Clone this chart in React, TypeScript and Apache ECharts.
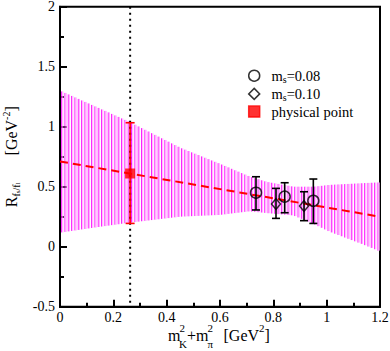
import { useEffect, useRef } from 'react';
import * as echarts from 'echarts';

// ---- data ----
const bandX = [0, 0.13, 0.26, 0.45, 0.6, 0.71, 0.775, 0.875, 0.95, 1.01, 1.14, 1.2];
const bandUpper = [1.30, 1.17, 1.04, 0.825, 0.69, 0.585, 0.54, 0.50, 0.50, 0.515, 0.53, 0.536];
const bandLower = [0.117, 0.16, 0.20, 0.25, 0.265, 0.295, 0.28, 0.26, 0.19, 0.125, 0.015, -0.04];

const fitX = [0, 1.2];
const fitY = [0.71, 0.25];

const ms008X = [0.735, 0.8425, 0.95];
const ms008Y = [0.45, 0.417, 0.383];
const ms008Lo = [0.306, 0.283, 0.194];
const ms008Hi = [0.583, 0.533, 0.564];

const ms010X = [0.81, 0.915];
const ms010Y = [0.356, 0.339];
const ms010Lo = [0.236, 0.217];
const ms010Hi = [0.486, 0.458];

const physX = [0.263];
const physY = [0.61];
const physLo = [0.194];
const physHi = [1.033];

const xMin = 0, xMax = 1.2, xStep = 0.2;
const yMin = -0.5, yMax = 2, yStep = 0.5;

const legendNames = ['m_s=0.08', 'm_s=0.10', 'physical point'];

const SERIF = "'Liberation Serif', 'Times New Roman', serif";
const HATCH_STEP = 3.33;

function renderBand(params: any, api: any) {
  const i = params.dataIndex;
  const n = bandX.length;
  if (i >= n - 1) return { type: 'group', children: [] };
  const ua = api.coord([bandX[i], bandUpper[i]]);
  const ub = api.coord([bandX[i + 1], bandUpper[i + 1]]);
  const la = api.coord([bandX[i], bandLower[i]]);
  const lb = api.coord([bandX[i + 1], bandLower[i + 1]]);
  const origin = api.coord([bandX[0], 0])[0] + 1.6;
  const end = api.coord([bandX[n - 1], 0])[0] - 1.5;
  const children: any[] = [];
  let k = Math.max(0, Math.ceil((ua[0] - origin) / HATCH_STEP - 1e-9));
  for (; ; k++) {
    const px = origin + k * HATCH_STEP;
    if (px > end) break;
    if (px >= ub[0] && i !== n - 2) break;
    const t = (px - ua[0]) / (ub[0] - ua[0]);
    const top = ua[1] + t * (ub[1] - ua[1]);
    const bot = la[1] + t * (lb[1] - la[1]);
    children.push({
      type: 'line',
      shape: { x1: px, y1: top, x2: px, y2: bot },
      style: { stroke: '#ff00ff', lineWidth: 0.9 },
    });
    children.push({
      type: 'line',
      shape: { x1: px + 1.25, y1: top, x2: px + 1.25, y2: bot },
      style: { stroke: '#ffaaff', lineWidth: 1 },
    });
  }
  return { type: 'group', children };
}

function makeErrRenderer(color: string, half: number) {
  return (params: any, api: any) => {
    const x = api.value(0);
    const pl = api.coord([x, api.value(2)]);
    const ph = api.coord([x, api.value(3)]);
    const style = { stroke: color, lineWidth: 1.6 };
    return {
      type: 'group',
      children: [
        { type: 'line', shape: { x1: pl[0], y1: pl[1], x2: ph[0], y2: ph[1] }, style },
        { type: 'line', shape: { x1: pl[0] - half, y1: pl[1], x2: pl[0] + half, y2: pl[1] }, style },
        { type: 'line', shape: { x1: ph[0] - half, y1: ph[1], x2: ph[0] + half, y2: ph[1] }, style },
      ],
    };
  };
}

const txt = (text: string, x: number, y: number, size: number) => ({
  type: 'text',
  x,
  y,
  silent: true,
  style: { text, fontSize: size, fontFamily: SERIF, fill: '#000', align: 'left', verticalAlign: 'middle' },
});

export default function App() {
  const ref = useRef<HTMLDivElement>(null);
  useEffect(() => {
    document.body.style.margin = '0';
    const chart = echarts.init(ref.current!, null, { renderer: 'svg' });

    const bandData = bandX.map((x, i) => [x, bandUpper[i], bandLower[i]]);
    const err = (X: number[], Y: number[], L: number[], H: number[]) => X.map((x, i) => [x, Y[i], L[i], H[i]]);
    const pts = (X: number[], Y: number[]) => X.map((x, i) => [x, Y[i]]);

    const axisCommon = {
      type: 'value' as const,
      axisLine: { show: true, onZero: false, lineStyle: { color: '#000', width: 2 } },
      axisTick: { show: true, inside: true, length: 7, lineStyle: { color: '#000', width: 2 } },
      minorTick: { show: true, splitNumber: 2, length: 4, lineStyle: { color: '#000', width: 2 } },
      splitLine: { show: false },
      minorSplitLine: { show: false },
    };

    chart.setOption({
      animation: false,
      backgroundColor: '#fff',
      grid: {
        left: 60, right: 10, top: 6.7, bottom: 44.3,
        show: true, borderColor: '#000', borderWidth: 2, backgroundColor: 'transparent',
        containLabel: false, outerBoundsMode: 'none',
      },
      xAxis: {
        ...axisCommon,
        min: xMin, max: xMax, interval: xStep,
        axisLabel: { color: '#000', fontFamily: SERIF, fontSize: 14, margin: 4 },
      },
      yAxis: {
        ...axisCommon,
        min: yMin, max: yMax, interval: yStep,
        axisLabel: { color: '#000', fontFamily: SERIF, fontSize: 14, margin: 5 },
        name: '{r|R}{s|f}{ss|s}{s|/f}{ss|l}{g| }{r|[GeV}{sup|-2}{r|]}',
        nameLocation: 'middle',
        nameRotate: 90,
        nameGap: 36,
        nameTextStyle: {
          fontFamily: SERIF,
          fontSize: 16,
          color: '#000',
          rich: {
            r: { fontFamily: SERIF, fontSize: 16, lineHeight: 20, color: '#000' },
            g: { fontFamily: SERIF, fontSize: 16, lineHeight: 20, width: 27 },
            sup: { fontFamily: SERIF, fontSize: 10, lineHeight: 8, verticalAlign: 'top', color: '#000' },
            s: { fontFamily: SERIF, fontSize: 10, lineHeight: 10, verticalAlign: 'bottom', color: '#000' },
            ss: { fontFamily: SERIF, fontSize: 7, lineHeight: 6, verticalAlign: 'bottom', color: '#000' },
          },
        },
      },
      legend: {
        orient: 'vertical',
        left: 246.2,
        top: 67.7,
        padding: 0,
        itemWidth: 11,
        itemHeight: 11,
        itemGap: 1.2,
        symbolKeepAspect: true,
        data: legendNames,
        selectedMode: false,
        itemStyle: { borderWidth: 1.5 },
        formatter: (name: string) =>
          name === legendNames[2] ? `{p|${name}}` : `{p|m}{s|s}{t|=${name.split('=')[1]}}`,
        textStyle: {
          fontFamily: SERIF,
          fontSize: 14.5,
          color: '#000',
          rich: {
            p: { fontFamily: SERIF, fontSize: 14.5, color: '#000', lineHeight: 18, padding: [0, 0, 0, 6.8] },
            t: { fontFamily: SERIF, fontSize: 14.5, color: '#000', lineHeight: 18 },
            s: { fontFamily: SERIF, fontSize: 10, color: '#000', lineHeight: 9, verticalAlign: 'bottom' },
          },
        },
      },
      graphic: [
        // x-axis title: m_K^2 + m_pi^2  [GeV^2]
        txt('m', 168, 335.6, 16),
        txt('2', 179.5, 328, 11),
        txt('K', 179, 344, 11),
        txt('+', 187, 335.6, 16),
        txt('m', 196, 335.6, 16),
        txt('2', 207.5, 328, 11),
        txt('\u03c0', 207.5, 344, 11),
        txt('[GeV', 223.5, 335.6, 16),
        txt('2', 259, 328, 11),
        txt(']', 264.5, 335.6, 16),
      ],
      series: [
        {
          type: 'custom',
          name: 'band',
          silent: true,
          z: 1,
          renderItem: renderBand,
          encode: { x: 0, y: [1, 2] },
          data: bandData,
        },
        {
          type: 'line',
          name: 'physical line',
          silent: true,
          z: 2,
          symbol: 'none',
          lineStyle: { color: '#000', width: 2, type: [2, 4] },
          data: [[physX[0], yMax], [physX[0], yMin]],
        },
        {
          type: 'line',
          name: 'fit',
          silent: true,
          z: 3,
          symbol: 'none',
          lineStyle: { color: '#ff0000', width: 2, type: [8, 5] },
          data: pts(fitX, fitY),
        },
        {
          type: 'custom',
          name: 'err008',
          silent: true,
          z: 4,
          renderItem: makeErrRenderer('#000', 4),
          encode: { x: 0, y: [1, 2, 3] },
          data: err(ms008X, ms008Y, ms008Lo, ms008Hi),
        },
        {
          type: 'custom',
          name: 'err010',
          silent: true,
          z: 4,
          renderItem: makeErrRenderer('#000', 4),
          encode: { x: 0, y: [1, 2, 3] },
          data: err(ms010X, ms010Y, ms010Lo, ms010Hi),
        },
        {
          type: 'custom',
          name: 'errPhys',
          silent: true,
          z: 4,
          renderItem: makeErrRenderer('#ff0000', 4.5),
          encode: { x: 0, y: [1, 2, 3] },
          data: err(physX, physY, physLo, physHi),
        },
        {
          type: 'scatter',
          name: legendNames[0],
          z: 5,
          symbol: 'circle',
          symbolSize: 11,
          itemStyle: { color: 'none', borderColor: '#000', borderWidth: 1.5 },
          data: pts(ms008X, ms008Y),
        },
        {
          type: 'scatter',
          name: legendNames[1],
          z: 5,
          symbol: 'diamond',
          symbolSize: [9, 10.5],
          itemStyle: { color: 'none', borderColor: '#000', borderWidth: 1.5 },
          data: pts(ms010X, ms010Y),
        },
        {
          type: 'scatter',
          name: legendNames[2],
          z: 5,
          symbol: 'rect',
          symbolSize: 10,
          itemStyle: { color: '#ff0000', borderColor: '#ff0000', borderWidth: 0 },
          data: pts(physX, physY),
        },
      ],
    });
    return () => chart.dispose();
  }, []);
  return <div ref={ref} style={{ width: 390, height: 351 }} />;
}
